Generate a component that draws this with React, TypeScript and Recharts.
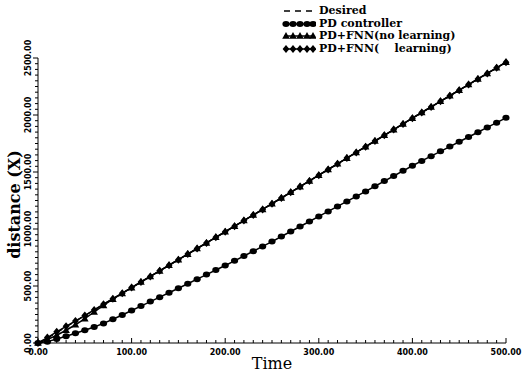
import { Label, Legend, Line, LineChart, XAxis, YAxis } from "recharts"

const times = [
	0, 10, 20, 30, 40, 50, 60, 70, 80, 90, 100, 110, 120, 130, 140, 150, 160, 170,
	180, 190, 200, 210, 220, 230, 240, 250, 260, 270, 280, 290, 300, 310, 320, 330,
	340, 350, 360, 370, 380, 390, 400, 410, 420, 430, 440, 450, 460, 470, 480, 490,
	500,
]

const desired = [
	0, 42, 90, 140, 190, 240, 290, 340, 388, 437, 486, 535, 584, 633, 682, 731, 780,
	829, 878, 927, 976, 1025, 1074, 1123, 1172, 1222, 1272, 1322, 1372, 1422, 1472,
	1522, 1572, 1622, 1672, 1722, 1772, 1822, 1872, 1922, 1972, 2022, 2071, 2120,
	2169, 2218, 2267, 2316, 2365, 2414, 2463,
]

const pdController = [
	0, 12, 35, 60, 85, 112, 140, 172, 208, 246, 285, 324, 363, 402, 441, 480, 520,
	560, 600, 640, 680, 721, 763, 805, 847, 890, 934, 978, 1022, 1066, 1110, 1154,
	1198, 1242, 1286, 1330, 1375, 1420, 1465, 1510, 1555, 1597, 1639, 1681, 1723,
	1765, 1807, 1849, 1891, 1933, 1975,
]

const fnnNoLearning = [
	0, 30, 68, 112, 160, 214, 272, 330, 384, 435, 486, 535, 584, 633, 682, 731, 780,
	829, 878, 927, 976, 1025, 1074, 1123, 1172, 1222, 1272, 1322, 1372, 1422, 1472,
	1522, 1572, 1622, 1672, 1722, 1772, 1822, 1872, 1922, 1972, 2022, 2071, 2120,
	2169, 2218, 2267, 2316, 2365, 2414, 2463,
]

const fnnLearning = [
	0, 48, 98, 146, 193, 241, 290, 340, 388, 437, 486, 535, 584, 633, 682, 731, 780,
	829, 878, 927, 976, 1025, 1074, 1123, 1172, 1222, 1272, 1322, 1372, 1422, 1472,
	1522, 1572, 1622, 1672, 1722, 1772, 1822, 1872, 1922, 1972, 2022, 2071, 2120,
	2169, 2218, 2267, 2316, 2365, 2414, 2463,
]

const xMajorTicks = [0, 100, 200, 300, 400, 500]
const yMajorTicks = [0, 500, 1000, 1500, 2000, 2500]
const xTicks = Array.from({ length: 51 }, (_, i) => i * 10)
const yTicks = Array.from({ length: 51 }, (_, i) => i * 50)

const legendItems = [
	{ label: "Desired", kind: "dash" },
	{ label: "PD controller", kind: "circle" },
	{ label: "PD+FNN(no learning)", kind: "triangle" },
	{ label: "PD+FNN(    learning)", kind: "diamond" },
]

const chartData = times.map((t, i) => ({
	time: t,
	desired: desired[i],
	pd: pdController[i],
	noLearn: fnnNoLearning[i],
	learn: fnnLearning[i],
}))

const INK = "#000"
const tickFont = "'DejaVu Sans', sans-serif"
const serif = "'DejaVu Serif', serif"

function Marker({ kind, cx, cy }: { kind: string; cx: number; cy: number }) {
	if (kind === "circle") return <ellipse cx={cx} cy={cy} rx={3.6} ry={3} fill={INK} />
	if (kind === "triangle")
		return <polygon points={`${cx},${cy - 4} ${cx + 3.8},${cy + 2.8} ${cx - 3.8},${cy + 2.8}`} fill={INK} />
	if (kind === "diamond")
		return <polygon points={`${cx},${cy - 4} ${cx + 3.4},${cy} ${cx},${cy + 4} ${cx - 3.4},${cy}`} fill={INK} />
	return null
}

const dotFor = (kind: string) => (props: any) => {
	const { cx, cy, index } = props
	if (cx == null || cy == null) return <g key={index} />
	return <Marker key={index} kind={kind} cx={cx} cy={cy} />
}

function XTick({ x, y, payload }: any) {
	const v = payload.value
	const major = xMajorTicks.includes(v)
	return (
		<g>
			<line x1={x} x2={x} y1={y} y2={y - (major ? 5 : 3)} stroke={INK} />
			{major && (
				<text x={x} y={y + 12} textAnchor="middle" fontSize={8} fontWeight="bold" fontFamily={tickFont} fill={INK}>
					{v.toFixed(2)}
				</text>
			)}
		</g>
	)
}

function YTick({ x, y, payload }: any) {
	const v = payload.value
	const major = yMajorTicks.includes(v)
	const tx = x - 10
	return (
		<g>
			<line x1={x} x2={x - (major ? 5 : 3)} y1={y} y2={y} stroke={INK} />
			{major && (
				<text
					x={tx}
					y={y}
					transform={`rotate(-90, ${tx}, ${y})`}
					textAnchor="middle"
					dominantBaseline="central"
					fontSize={8}
					fontWeight="bold"
					fontFamily={tickFont}
					fill={INK}
				>
					{v.toFixed(2)}
				</text>
			)}
		</g>
	)
}

function LegendSymbol({ kind }: { kind: string }) {
	if (kind === "dash") {
		return (
			<svg width={34} height={10}>
				<line x1={2} x2={32} y1={5} y2={5} stroke={INK} strokeWidth={1.5} strokeDasharray="6 5" />
			</svg>
		)
	}
	return (
		<svg width={34} height={10}>
			<line x1={2} x2={32} y1={5} y2={5} stroke={INK} strokeWidth={1.5} />
			{[4, 11, 18, 25, 31].map((cx) => (
				<Marker key={cx} kind={kind} cx={cx} cy={5} />
			))}
		</svg>
	)
}

function renderLegend() {
	return (
		<div style={{ fontFamily: serif, fontWeight: "bold", fontSize: 11, lineHeight: "12.5px", color: INK }}>
			{legendItems.map((item) => (
				<div key={item.label} style={{ display: "flex", alignItems: "center", whiteSpace: "pre" }}>
					<LegendSymbol kind={item.kind} />
					<span style={{ marginLeft: 3 }}>{item.label}</span>
				</div>
			))}
		</div>
	)
}

export default function App() {
	return (
		<div style={{ position: "absolute", left: 0, top: 0, background: "#fff" }}>
			<LineChart width={525} height={378} data={chartData} margin={{ top: 58, right: 19, bottom: 0, left: 0 }}>
				<XAxis
					dataKey="time"
					type="number"
					domain={[0, 500]}
					ticks={xTicks}
					interval={0}
					tickLine={false}
					tickSize={0}
					tickMargin={0}
					tick={<XTick />}
					height={35}
					stroke={INK}
				>
					<Label value="Time" position="insideBottom" offset={9} fontSize={16} fontFamily={serif} fill={INK} />
				</XAxis>
				<YAxis
					type="number"
					domain={[0, 2500]}
					ticks={yTicks}
					interval={0}
					tickLine={false}
					tickSize={0}
					tickMargin={0}
					tick={<YTick />}
					width={38}
					stroke={INK}
				>
					<Label
						value="distance (X)"
						angle={-90}
						position="center"
						dx={-5}
						dy={4}
						fontSize={16}
						fontWeight="bold"
						fontFamily={serif}
						fill={INK}
					/>
				</YAxis>
				<Legend
					layout="vertical"
					align="center"
					verticalAlign="middle"
					content={renderLegend}
					wrapperStyle={{ position: "absolute", top: 5, left: 282, width: 235 }}
				/>
				<Line dataKey="pd" stroke={INK} strokeWidth={1.5} dot={dotFor("circle")} isAnimationActive={false} />
				<Line dataKey="noLearn" stroke={INK} strokeWidth={1.5} dot={dotFor("triangle")} isAnimationActive={false} />
				<Line dataKey="learn" stroke={INK} strokeWidth={1.5} dot={dotFor("diamond")} isAnimationActive={false} />
				<Line dataKey="desired" stroke={INK} strokeWidth={1.2} strokeDasharray="6 5" dot={false} isAnimationActive={false} />
			</LineChart>
		</div>
	)
}
